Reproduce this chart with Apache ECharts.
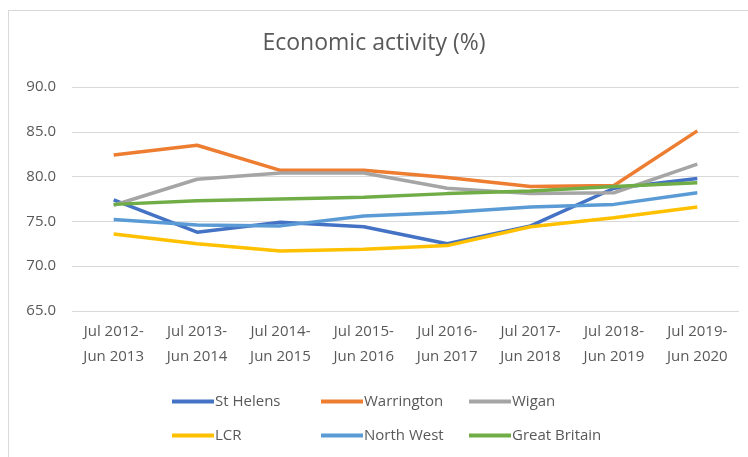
<!DOCTYPE html>
<html>
<head>
<meta charset="utf-8">
<script src="https://cdn.jsdelivr.net/npm/echarts@6/dist/echarts.min.js"></script>
<style>
  html, body { margin: 0; padding: 0; background: #fff; }
  .wrap { position: relative; width: 748px; height: 457px; overflow: hidden; }
  .frame { position: absolute; left: 8px; top: 10px; width: 800px; height: 500px;
           border-left: 1px solid #d9d9d9; border-top: 1px solid #d9d9d9; }
  #chart { position: absolute; left: 0; top: 0; width: 748px; height: 457px; }
</style>
</head>
<body>
<div class="wrap">
  <div class="frame"></div>
  <div id="chart"></div>
</div>
<script>
// 期间（类目）
const periods = [
  'Jul 2012-\nJun 2013', 'Jul 2013-\nJun 2014', 'Jul 2014-\nJun 2015', 'Jul 2015-\nJun 2016',
  'Jul 2016-\nJun 2017', 'Jul 2017-\nJun 2018', 'Jul 2018-\nJun 2019', 'Jul 2019-\nJun 2020'
]

// 各地区经济活动率 (%)
const stHelens     = [77.4, 73.8, 74.9, 74.4, 72.5, 74.5, 78.7, 79.8]
const warrington   = [82.4, 83.5, 80.7, 80.7, 79.9, 78.9, 79.0, 85.1]
const wigan        = [76.8, 79.7, 80.4, 80.4, 78.7, 78.1, 78.2, 81.4]
const lcr          = [73.6, 72.5, 71.7, 71.9, 72.3, 74.4, 75.4, 76.6]
const northWest    = [75.2, 74.6, 74.5, 75.6, 76.0, 76.6, 76.9, 78.2]
const greatBritain = [76.9, 77.3, 77.5, 77.7, 78.1, 78.4, 78.9, 79.3]

const seriesDefs = [
  { name: 'St Helens', data: stHelens, color: '#4472c4' },
  { name: 'Warrington', data: warrington, color: '#ed7d31' },
  { name: 'Wigan', data: wigan, color: '#a5a5a5' },
  { name: 'LCR', data: lcr, color: '#ffc000' },
  { name: 'North West', data: northWest, color: '#5b9bd5' },
  { name: 'Great Britain', data: greatBritain, color: '#70ad47' }
]

const FONT = 'Open Sans'
const TEXT_COLOR = '#595959'

// 图例位置：两行三列
const legendCols = [167, 316, 464]
const legendRows = [389, 423]

const legends = seriesDefs.map((s, i) => ({
  data: [s.name],
  left: legendCols[i % 3],
  top: legendRows[Math.floor(i / 3)],
  icon: 'rect',
  itemWidth: 42,
  itemHeight: 4,
  itemGap: 0,
  selectedMode: false,
  textStyle: { color: TEXT_COLOR, fontFamily: FONT, fontSize: 15, padding: [0, 0, 0, -4] }
}))

const chart = echarts.init(document.getElementById('chart'))
chart.setOption({
  animation: false,
  textStyle: { fontFamily: FONT },
  title: {
    text: 'Economic activity (%)',
    left: 'center',
    top: 27,
    textStyle: { color: TEXT_COLOR, fontFamily: FONT, fontSize: 23, fontWeight: 'normal' }
  },
  legend: legends,
  grid: { left: 72, right: 9, top: 87, bottom: 146 },
  xAxis: {
    type: 'category',
    data: periods,
    boundaryGap: true,
    axisLine: { show: false },
    axisTick: { show: false },
    axisLabel: { color: TEXT_COLOR, fontFamily: FONT, fontSize: 15, lineHeight: 25, margin: 8, interval: 0 }
  },
  yAxis: {
    type: 'value',
    min: 65,
    max: 90,
    interval: 5,
    axisLine: { show: false },
    axisTick: { show: false },
    axisLabel: { color: TEXT_COLOR, fontFamily: FONT, fontSize: 15, margin: 16, formatter: v => v.toFixed(1) },
    splitLine: { lineStyle: { color: '#d9d9d9', width: 1 } }
  },
  series: seriesDefs.map(s => ({
    name: s.name,
    type: 'line',
    data: s.data,
    showSymbol: false,
    symbol: 'none',
    lineStyle: { color: s.color, width: 3.5 },
    itemStyle: { color: s.color }
  }))
})
</script>
</body>
</html>
